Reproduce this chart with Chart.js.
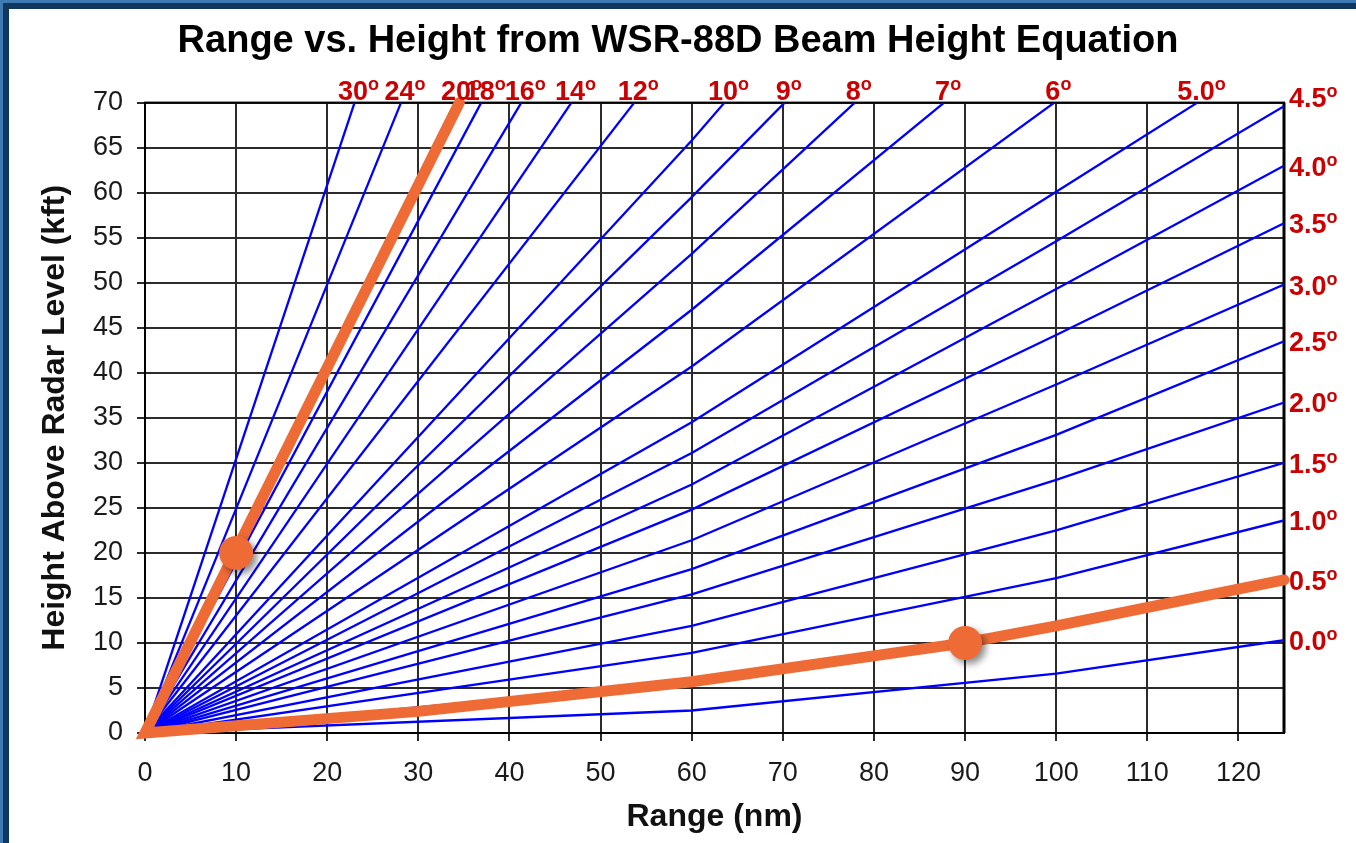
<!DOCTYPE html>
<html>
<head>
<meta charset="utf-8">
<title>Range vs. Height</title>
<script src="https://cdn.jsdelivr.net/npm/chart.js@4.4.1/dist/chart.umd.min.js"></script>
<style>
  html, body { margin: 0; padding: 0; background: #fff; overflow: hidden; }
  #wrap { position: relative; width: 1356px; height: 843px; }
  #chart { position: absolute; left: 0; top: 0; }
  .frame-out { position: absolute; left: 0; top: 0; width: 1356px; height: 843px; box-sizing: border-box;
               border-top: 3px solid #3f7ab2; border-left: 3px solid #3f7ab2; pointer-events: none; }
  .frame-in { position: absolute; left: 0; top: 0; right: 0; bottom: 0;
              border-top: 6px solid #12375f; border-left: 6px solid #12375f; pointer-events: none; }
</style>
</head>
<body>
<div id="wrap">
  <canvas id="chart" width="1356" height="843"></canvas>
  <div class="frame-out"><div class="frame-in"></div></div>
</div>
<script>
// elevation angles (deg) of the blue beam lines
const angles = ['0.0','0.5','1.0','1.5','2.0','2.5','3.0','3.5','4.0','4.5','5.0','6','7','8','9','10','12','14','16','18','20','24','30'];
// height (kft) read at 60 nm and 100 nm, null where the line already left the chart
const heightAt60  = [2.5, 5.7, 8.9, 11.9, 15.4, 18.2, 21.4, 24.8, 27.6, 31.1, 34.5, 40.7, 47.0, 53.2, 59.5, 65.8, null, null, null, null, null, null, null];
const heightAt100 = [6.6, 11.9, 17.2, 22.5, 28.1, 33.1, 38.7, 44.2, 49.3, 54.6, 60.1, null, null, null, null, null, null, null, null, null, null, null, null];
// where each line ends (right edge or top edge)
const endRange  = [125, 125, 125, 125, 125, 125, 125, 125, 125, 125, 115.5, 99.8, 87.7, 77.9, 70.2, 63.6, 53.7, 46.8, 41.3, 36.9, 34.3, 28.1, 23.0];
const endHeight = [10.3, 17.0, 23.6, 30.0, 36.7, 43.5, 49.8, 56.6, 63.0, 69.6, 70, 70, 70, 70, 70, 70, 70, 70, 70, 70, 70, 70, 70];

// orange highlight: steep line and the 0.5 deg line
const steepRange = [34.5, 0];
const steepHeight = [70, 0];
const lowRange = [30, 60, 90, 100, 125];
const lowHeight = [2.4, 5.7, 10.0, 11.9, 17.0];
const markRange = [10, 90];
const markHeight = [20, 10];

const rangeTicks = [0, 10, 20, 30, 40, 50, 60, 70, 80, 90, 100, 110, 120];
const heightTicks = [0, 5, 10, 15, 20, 25, 30, 35, 40, 45, 50, 55, 60, 65, 70];

const FONT = '"Liberation Sans", Arial, Helvetica, sans-serif';
const ORANGE = '#ef6b36';
Chart.defaults.font.family = FONT;

const blueSets = angles.map((a, i) => {
  const pts = [{ x: 0, y: 0 }];
  if (heightAt60[i] !== null) pts.push({ x: 60, y: heightAt60[i] });
  if (heightAt100[i] !== null) pts.push({ x: 100, y: heightAt100[i] });
  pts.push({ x: endRange[i], y: endHeight[i] });
  return {
    label: a, data: pts, showLine: true, pointRadius: 0,
    borderColor: '#0000ff', borderWidth: 2.3, fill: false
  };
});

const orangePath = steepRange.map((r, i) => ({ x: r, y: steepHeight[i] }))
  .concat(lowRange.map((r, i) => ({ x: r, y: lowHeight[i] })));

const datasets = [
  { label: 'marks', data: markRange.map((r, i) => ({ x: r, y: markHeight[i] })),
    showLine: false, pointRadius: 17, backgroundColor: ORANGE, borderWidth: 0, clip: false },
  { label: 'highlight', data: orangePath, showLine: true, pointRadius: 0,
    borderColor: ORANGE, borderWidth: 11, borderJoinStyle: 'miter', borderCapStyle: 'round', clip: false }
].concat(blueSets);

// frame of the plot area
const plotFrame = {
  id: 'plotFrame',
  beforeDatasetsDraw(chart) {
    const { ctx, chartArea: a } = chart;
    ctx.save();
    ctx.strokeStyle = '#000';
    ctx.lineWidth = 2;
    ctx.strokeRect(a.left, a.top, a.right - a.left, a.bottom - a.top);
    ctx.lineWidth = 3;
    ctx.beginPath();
    ctx.moveTo(a.right, a.top);
    ctx.lineTo(a.right, a.bottom);
    ctx.stroke();
    ctx.restore();
  }
};

// drop shadow under the orange dots
const dotShadow = {
  id: 'dotShadow',
  beforeDatasetDraw(chart, args) {
    if (args.index !== 0) return;
    const ctx = chart.ctx;
    ctx.save();
    ctx.shadowColor = 'rgba(0,0,0,0.45)';
    ctx.shadowBlur = 7;
    ctx.shadowOffsetX = 4;
    ctx.shadowOffsetY = 4;
  },
  afterDatasetDraw(chart, args) {
    if (args.index === 0) chart.ctx.restore();
  }
};

// red angle labels at the end of each line
const beamLabels = {
  id: 'beamLabels',
  afterDatasetsDraw(chart) {
    const { ctx, chartArea: a, scales: { x, y } } = chart;
    ctx.save();
    ctx.fillStyle = '#cc0000';
    ctx.textBaseline = 'alphabetic';
    ctx.textAlign = 'left';
    angles.forEach((ang, i) => {
      const px = x.getPixelForValue(endRange[i]);
      const py = y.getPixelForValue(endHeight[i]);
      ctx.font = 'bold 27px ' + FONT;
      const wNum = ctx.measureText(ang).width;
      ctx.font = 'bold 18px ' + FONT;
      const wDeg = ctx.measureText('o').width;
      let left, base;
      if (endHeight[i] >= 70) {
        left = px + 4 - (wNum + wDeg) / 2;
        base = a.top - 3;
      } else {
        const mid = py < a.top + 12 ? a.top - 6 : py;
        left = a.right + 5;
        base = mid + 10;
      }
      ctx.font = 'bold 27px ' + FONT;
      ctx.fillText(ang, left, base);
      ctx.font = 'bold 18px ' + FONT;
      ctx.fillText('o', left + wNum, base - 10);
    });
    ctx.restore();
  }
};

new Chart(document.getElementById('chart'), {
  type: 'scatter',
  data: { datasets },
  options: {
    responsive: false,
    animation: false,
    layout: { padding: 0 },
    plugins: {
      legend: { display: false },
      tooltip: { enabled: false },
      title: {
        display: true,
        text: 'Range vs. Height from WSR-88D Beam Height Equation',
        color: '#000',
        font: { size: 38, weight: 'bold' },
        padding: { top: 19, bottom: 38 }
      }
    },
    scales: {
      x: {
        type: 'linear', min: 0, max: 125,
        afterBuildTicks: s => { s.ticks = rangeTicks.map(v => ({ value: v })); },
        afterFit: s => { s.height = 110; },
        grid: { color: '#2b2b2b', lineWidth: 2, tickLength: 8 },
        border: { color: '#000', width: 2 },
        ticks: { color: '#1a1a1a', font: { size: 27 }, padding: 16, maxRotation: 0 },
        title: { display: true, text: 'Range (nm)', color: '#111', font: { size: 32, weight: 'bold' }, padding: { top: 0, bottom: 7 } }
      },
      y: {
        type: 'linear', min: 0, max: 70,
        afterBuildTicks: s => { s.ticks = heightTicks.map(v => ({ value: v })); },
        afterFit: s => { s.width = 145; },
        grid: { color: '#2b2b2b', lineWidth: 2, tickLength: 8 },
        border: { color: '#000', width: 2 },
        ticks: { color: '#1a1a1a', font: { size: 27 }, padding: 14 },
        title: { display: true, text: 'Height Above Radar Level (kft)', color: '#111', font: { size: 32, weight: 'bold' }, padding: { top: 36, bottom: 0 } }
      },
      y2: {
        type: 'linear', position: 'right', min: 0, max: 70,
        grid: { display: false },
        border: { display: false },
        ticks: { display: false },
        afterFit: s => { s.width = 72; }
      }
    }
  },
  plugins: [plotFrame, dotShadow, beamLabels]
});
</script>
</body>
</html>
